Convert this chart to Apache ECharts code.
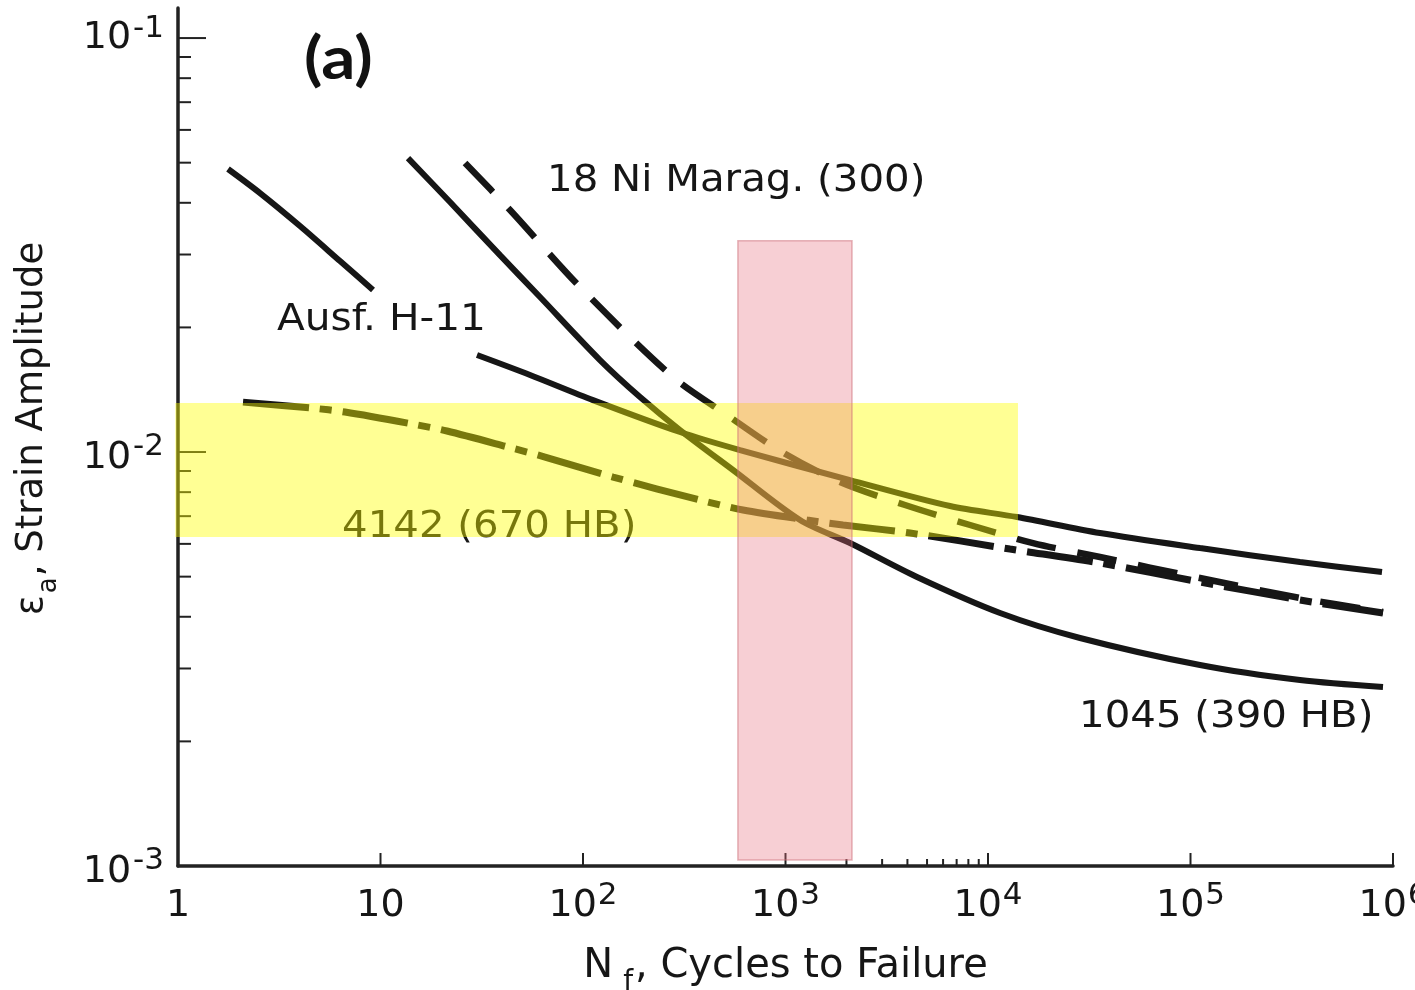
<!DOCTYPE html>
<html>
<head>
<meta charset="utf-8">
<script src="https://cdn.jsdelivr.net/npm/echarts@6/dist/echarts.min.js"></script>
<style>html,body{margin:0;padding:0;background:#fff}#c{width:1415px;height:990px}</style>
</head>
<body>
<div id="c"></div>
<script>
// ---------- data ----------
const xRange = [1, 1000000];
const yRange = [0.001, 0.1182];

const xTickValues = [10, 100, 1000, 2000, 3000, 4000, 5000, 6000, 7000, 8000, 9000, 10000, 100000, 1000000];
const yTickValues = [0.002, 0.003, 0.004, 0.005, 0.006, 0.007, 0.008, 0.009, 0.01,
                     0.02, 0.03, 0.04, 0.05, 0.06, 0.07, 0.08, 0.09, 0.1];

const xLabelExponents = [0, 1, 2, 3, 4, 5, 6];
const xTickLabels = [['1', ''], ['10', ''], ['10', '2'], ['10', '3'], ['10', '4'], ['10', '5'], ['10', '6']];
const yLabelExponents = [-3, -2, -1];
const yTickLabels = [['10', '-3'], ['10', '-2'], ['10', '-1']];

// Ausf. H-11 (solid, broken where its label sits)
const ausfH11 = [
  [1.766, 0.04827], [2.541, 0.04222], [4.004, 0.03515], [6.31, 0.02893], [9.183, 0.02462],
  [16, '-'],
  [29.96, 0.01715], [54.74, 0.01535], [112, 0.01335], [301.3, 0.01118], [596.2, 0.01011],
  [2082, 0.008558], [6492, 0.007406], [13910, 0.006966], [35730, 0.006373],
  [111400, 0.005862], [347200, 0.005424], [882500, 0.005131]
];
// 1045 (390 HB) (solid)
const steel1045 = [
  [13.67, 0.05129], [22.04, 0.04017], [38.91, 0.0299], [61.33, 0.02368], [121.3, 0.01668],
  [191.2, 0.01358], [301.3, 0.0113], [550.4, 0.00905], [1179, 0.006851], [2082, 0.006027],
  [4460, 0.004989], [11470, 0.004084], [28470, 0.003554], [111400, 0.003058],
  [347200, 0.002813], [892500, 0.002706]
];
// 18 Ni Marag. (300) (dashed)
const marag18Ni = [
  [26.15, 0.04989], [43.61, 0.03842], [96.65, 0.02504], [278.2, 0.01518], [514.1, 0.01229],
  [960.9, 0.01], [1858, 0.008464], [3891, 0.007447], [8150, 0.006664], [16690, 0.006027],
  [35730, 0.005577], [111400, 0.004962], [347200, 0.00444], [892500, 0.004107]
];
// 4142 (670 HB) (dash-dot)
const steel4142 = [
  [2.094, 0.0132], [4.589, 0.01277], [6.678, 0.01249], [14.47, 0.01168], [21.3, 0.01124],
  [44.61, 0.01022], [64.93, 0.009725], [140.7, 0.008701], [378.2, 0.007656], [616.8, 0.007244],
  [1277, 0.006851], [1923, 0.006664], [4119, 0.006373], [12840, 0.005829], [35730, 0.005394],
  [111400, 0.004853], [347200, 0.004391], [892500, 0.004084]
];

// highlighted bands
const yellowBandX = [0.97, 14060];
const yellowBandY = [0.00623, 0.01314];
const pinkBandX = [582, 2130];
const pinkBandY = [0.001034, 0.0324];

// ---------- helpers ----------
const FONT = '"DejaVu Sans", "Liberation Sans", Arial, sans-serif';
const INK = '#161616';
function isDecade(v) { const e = Math.log10(v); return Math.abs(e - Math.round(e)) < 1e-6; }
function decade(v) { return Math.round(Math.log10(v)); }

const chart = echarts.init(document.getElementById('c'), null, { renderer: 'canvas' });

const curveLine = (name, data, width, dash) => ({
  name, type: 'line', data, showSymbol: false, symbol: 'none', smooth: 0.3, z: 2,
  connectNulls: false, silent: true,
  lineStyle: { color: INK, width, type: dash || 'solid', cap: 'butt' }
});

const option = {
  animation: false,
  backgroundColor: '#ffffff',
  grid: { left: 178, right: 22, top: 8, bottom: 124, containLabel: false, outerBoundsMode: 'none' },
  xAxis: {
    type: 'log', logBase: 10, min: xRange[0], max: xRange[1],
    name: '{n|N}{f|f}{r|, Cycles to Failure}',
    nameLocation: 'middle', nameGap: 65,
    nameTextStyle: {
      color: INK, fontFamily: FONT,
      rich: {
        n: { fontSize: 40, lineHeight: 60, fontFamily: FONT, color: INK },
        f: { fontSize: 28, lineHeight: 28, padding: [32, 2, 0, 10], fontFamily: FONT, color: INK },
        r: { fontSize: 40, lineHeight: 60, fontFamily: FONT, color: INK }
      }
    },
    axisLine: { show: true, onZero: false, lineStyle: { color: '#222', width: 3.5 } },
    axisTick: { show: false },
    minorTick: { show: false },
    splitLine: { show: false },
    axisLabel: {
      margin: 14, color: INK, fontFamily: FONT,
      formatter: v => {
        if (!isDecade(v)) return '';
        const i = xLabelExponents.indexOf(decade(v));
        if (i < 0) return '';
        const [b, s] = xTickLabels[i];
        return s ? `{b|${b}}{s|${s}}` : `{b|${b}}`;
      },
      rich: {
        b: { fontSize: 38, lineHeight: 52, fontFamily: FONT, color: INK },
        s: { fontSize: 31, lineHeight: 31, padding: [0, 0, 21, 1], fontFamily: FONT, color: INK }
      }
    }
  },
  yAxis: {
    type: 'log', logBase: 10, min: yRange[0], max: yRange[1],
    name: '{e|ε}{a|a}{r|, Strain Amplitude}',
    nameLocation: 'middle', nameGap: 116,
    nameTextStyle: {
      color: INK, fontFamily: FONT, padding: [0, 0, 0, 17],
      rich: {
        e: { fontSize: 37, lineHeight: 60, fontFamily: FONT, color: INK },
        a: { fontSize: 26, lineHeight: 26, padding: [34, 1, 0, 2], fontFamily: FONT, color: INK },
        r: { fontSize: 37, lineHeight: 60, fontFamily: FONT, color: INK }
      }
    },
    axisLine: { show: true, onZero: false, lineStyle: { color: '#222', width: 3.5 } },
    axisTick: { show: false },
    minorTick: { show: false },
    splitLine: { show: false },
    axisLabel: {
      margin: 14, color: INK, fontFamily: FONT,
      formatter: v => {
        if (!isDecade(v)) return '';
        const e = decade(v);
        const i = yLabelExponents.indexOf(e);
        if (i < 0) return '';
        const [b, s] = yTickLabels[i];
        const top = e === yLabelExponents[yLabelExponents.length - 1];
        return top ? `{bt|${b}}{st|${s}}` : `{b|${b}}{s|${s}}`;
      },
      rich: {
        b: { fontSize: 38, lineHeight: 38, padding: [12, 0, 0, 0], fontFamily: FONT, color: INK },
        s: { fontSize: 31, lineHeight: 31, padding: [4, 0, 15, 2], fontFamily: FONT, color: INK },
        bt: { fontSize: 38, lineHeight: 38, padding: [6, 0, 6, 0], fontFamily: FONT, color: INK },
        st: { fontSize: 31, lineHeight: 31, padding: [0, 0, 19, 2], fontFamily: FONT, color: INK }
      }
    }
  },
  graphic: [
    { type: 'text', z: 1, x: 304, y: 60, scaleX: 1.12,
      style: { text: '(a)', font: 'bold 60px Lato, "Open Sans", sans-serif', fill: '#111', verticalAlign: 'middle' } },
    { type: 'text', z: 1, x: 547, y: 181, scaleX: 1.06,
      style: { text: '18 Ni Marag. (300)', font: '38px ' + FONT, fill: INK, verticalAlign: 'middle' } },
    { type: 'text', z: 1, x: 277, y: 320, scaleX: 1.07,
      style: { text: 'Ausf. H-11', font: '38px ' + FONT, fill: INK, verticalAlign: 'middle' } },
    { type: 'text', z: 1, x: 342, y: 527, scaleX: 1.06,
      style: { text: '4142 (670 HB)', font: '38px ' + FONT, fill: INK, verticalAlign: 'middle' } },
    { type: 'text', z: 1, x: 1079, y: 717, scaleX: 1.06,
      style: { text: '1045 (390 HB)', font: '38px ' + FONT, fill: INK, verticalAlign: 'middle' } }
  ],
  series: [
    // axis ticks (inward), drawn through the axes' scales
    {
      name: 'yTicks', type: 'custom', coordinateSystem: 'cartesian2d', silent: true, z: 1,
      data: yTickValues.map(v => [xRange[0], v]),
      renderItem: (params, api) => {
        const v = api.value(1);
        const p = api.coord([api.value(0), v]);
        const len = isDecade(v) ? 28 : 13;
        return { type: 'line', shape: { x1: p[0], y1: p[1], x2: p[0] + len, y2: p[1] },
                 style: { stroke: '#222', lineWidth: 2 } };
      }
    },
    {
      name: 'xTicks', type: 'custom', coordinateSystem: 'cartesian2d', silent: true, z: 1,
      data: xTickValues.map(v => [v, yRange[0]]),
      renderItem: (params, api) => {
        const v = api.value(0);
        const p = api.coord([v, api.value(1)]);
        const len = isDecade(v) ? 13 : 7;
        return { type: 'line', shape: { x1: p[0], y1: p[1], x2: p[0], y2: p[1] - len },
                 style: { stroke: '#222', lineWidth: 2 } };
      }
    },
    curveLine('Ausf. H-11', ausfH11, 6),
    curveLine('1045 (390 HB)', steel1045, 6),
    curveLine('18 Ni Marag. (300)', marag18Ni, 6.5, [40, 22]),
    curveLine('4142 (670 HB)', steel4142, 7, [66, 11, 12, 11]),
    // yellow band
    {
      name: 'yellowBand', type: 'custom', coordinateSystem: 'cartesian2d', silent: true, z: 4,
      data: [[yellowBandX[0], yellowBandY[0], yellowBandX[1], yellowBandY[1]]],
      renderItem: (params, api) => {
        const a = api.coord([api.value(0), api.value(3)]);
        const b = api.coord([api.value(2), api.value(1)]);
        return { type: 'rect', shape: { x: a[0], y: a[1], width: b[0] - a[0], height: b[1] - a[1] },
                 style: { fill: 'rgba(255,255,0,0.42)' } };
      }
    },
    // pink band
    {
      name: 'pinkBand', type: 'custom', coordinateSystem: 'cartesian2d', silent: true, z: 5,
      data: [[pinkBandX[0], pinkBandY[0], pinkBandX[1], pinkBandY[1]]],
      renderItem: (params, api) => {
        const a = api.coord([api.value(0), api.value(3)]);
        const b = api.coord([api.value(2), api.value(1)]);
        return { type: 'rect', shape: { x: a[0], y: a[1], width: b[0] - a[0], height: b[1] - a[1] },
                 style: { fill: 'rgba(230,110,125,0.33)', stroke: 'rgba(205,110,120,0.5)', lineWidth: 1.5 } };
      }
    }
  ]
};
chart.setOption(option);
</script>
</body>
</html>
